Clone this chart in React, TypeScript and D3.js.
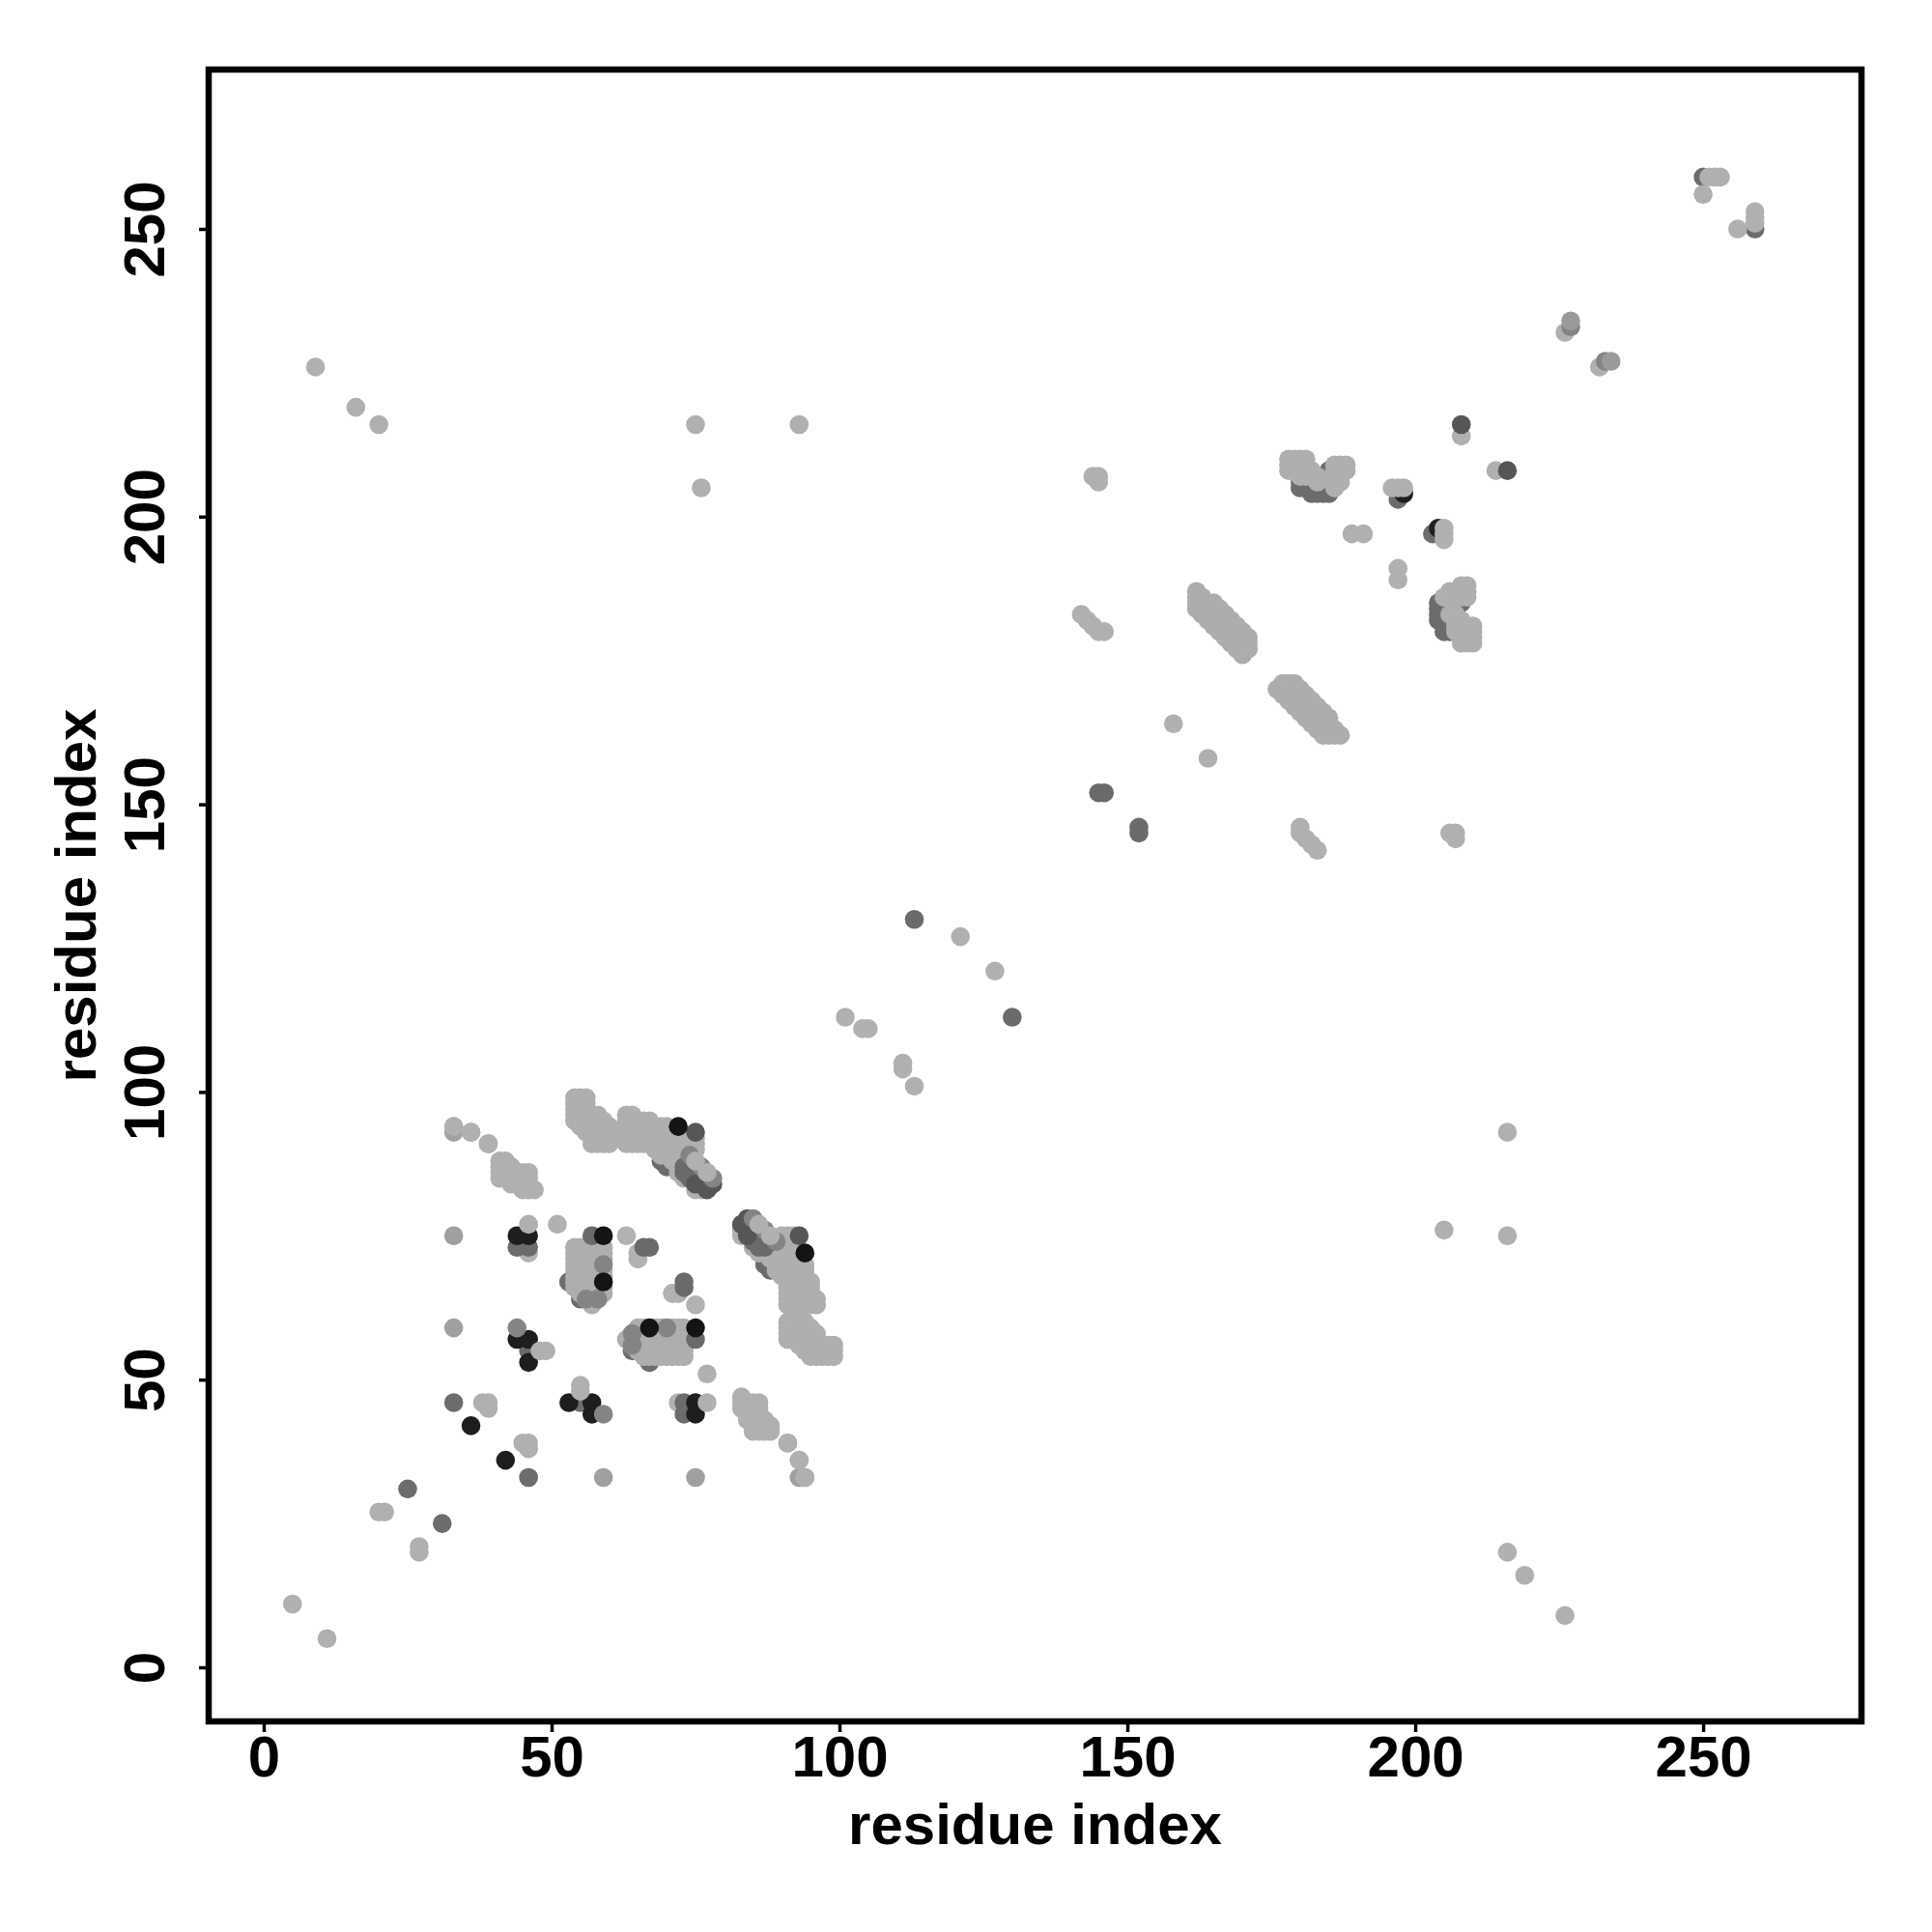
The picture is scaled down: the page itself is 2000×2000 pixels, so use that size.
import React, { useRef, useEffect } from "react";
import * as d3 from "d3";

type Pair = [number, number];

const xTicks = [0, 50, 100, 150, 200, 250];
const yTicks = [0, 50, 100, 150, 200, 250];
const xDomain: [number, number] = [-9.56, 277.5];
const yDomain: [number, number] = [-9.4, 277.7];

// every contact is listed once as [i, j]; the map draws it at (i, j) and (j, i)
const underLight: Pair[] = [
  [46, 72], [65, 71], [65, 72], [63, 75], [71, 65], [72, 65],
];
const underMid: Pair[] = [
  [33, 93], [33, 59], [33, 75],
];
const underGray: Pair[] = [
  [53, 67], [55, 64], [67, 53], [69, 88], [70, 87], [71, 87],
  [180, 205], [180, 206], [181, 205], [181, 206], [182, 204], [182, 205],
  [183, 204], [183, 205], [184, 204], [184, 205], [184, 206], [184, 207],
  [185, 204], [185, 205], [185, 206], [185, 207], [185, 208],
  [197, 203], [33, 46], [46, 73], [44, 73], [46, 55], [25, 31],
  [73, 92], [250, 259],
];
const underBlack: Pair[] = [
  [198, 204], [44, 75], [46, 75], [44, 57], [46, 57], [46, 53], [36, 42],
];

const lightSparse: Pair[] = [
  [5, 11], [9, 226], [16, 219], [20, 216], [75, 216], [76, 205], [93, 216],
  [101, 113], [104, 111], [105, 111], [121, 127], [20, 27], [21, 27],
  [250, 256], [251, 259], [252, 259], [253, 259], [226, 232],
  [208, 214], [189, 197], [191, 197], [158, 164],
  [142, 183], [143, 182], [144, 181], [145, 180], [146, 180],
  [144, 207], [145, 207], [145, 206],
  [196, 205], [197, 205], [198, 205],
  [33, 94], [36, 93], [39, 91], [46, 77], [51, 77], [48, 55], [49, 55],
  [38, 46], [39, 46], [39, 45], [94, 33], [91, 39], [93, 36],
];
const lightStrandA: Pair[] = [
  [162, 187], [162, 186], [162, 185], [162, 184],
  [163, 186], [163, 185], [163, 184], [163, 183],
  [164, 185], [164, 184], [164, 183], [164, 182],
  [165, 185], [165, 184], [165, 183], [165, 182], [165, 181],
  [166, 184], [166, 183], [166, 182], [166, 181], [166, 180],
  [167, 183], [167, 182], [167, 181], [167, 180], [167, 179],
  [168, 182], [168, 181], [168, 180], [168, 179], [168, 178],
  [169, 181], [169, 180], [169, 179], [169, 178], [169, 177],
  [170, 180], [170, 179], [170, 178], [170, 177], [170, 176],
  [171, 179], [171, 178], [171, 177],
];
const lightPatchB: Pair[] = [
  [178, 210], [179, 210], [180, 210], [181, 210],
  [178, 209], [179, 209], [180, 209], [181, 209],
  [178, 208], [179, 208], [180, 208], [181, 208],
  [180, 207], [181, 207], [182, 208], [182, 207], [183, 207], [183, 206],
  [186, 209], [187, 209], [188, 209],
  [186, 208], [187, 208], [188, 208], [186, 207], [187, 207],
  [186, 206], [187, 206], [186, 205],
];
const lightPatchC: Pair[] = [
  [41, 88], [41, 87], [41, 86], [41, 85], [42, 88], [42, 87], [42, 86], [42, 85],
  [43, 87], [43, 86], [43, 85], [43, 84], [44, 86], [44, 85], [44, 84],
  [45, 86], [45, 85], [45, 84], [45, 83], [46, 86], [46, 85], [46, 84], [46, 83],
  [47, 83],
];
const lightStrandD: Pair[] = [
  [54, 99], [54, 98], [54, 97], [54, 96], [54, 95],
  [55, 99], [55, 98], [55, 97], [55, 96], [55, 95], [55, 94],
  [56, 99], [56, 98], [56, 97], [56, 96], [56, 95], [56, 94], [56, 93],
  [57, 96], [57, 95], [57, 94], [57, 93], [57, 92], [57, 91],
  [58, 96], [58, 95], [58, 94], [58, 93], [58, 92], [58, 91],
  [59, 95], [59, 94], [59, 93], [59, 92], [59, 91],
  [60, 94], [60, 93], [60, 92], [60, 91],
  [63, 96], [63, 95], [63, 94], [63, 93], [63, 92], [63, 91],
  [64, 96], [64, 95], [64, 94], [64, 93], [64, 92], [64, 91],
  [65, 95], [65, 94], [65, 93], [65, 92], [65, 91],
  [66, 95], [66, 94], [66, 93], [66, 92], [66, 91],
  [67, 95], [67, 94], [67, 93], [67, 92], [67, 91],
  [68, 94], [68, 93], [68, 92], [68, 91], [68, 90],
  [69, 94], [69, 93], [69, 92], [69, 91], [69, 90], [69, 89],
  [70, 94], [70, 93], [70, 92], [70, 91], [70, 90], [70, 89],
  [71, 93], [71, 92], [71, 91], [71, 90], [71, 89], [71, 88],
  [72, 92], [72, 91], [72, 90], [72, 89], [72, 88], [72, 87], [72, 86],
  [73, 91], [73, 90], [73, 89], [73, 88], [73, 87], [73, 86], [73, 85],
  [74, 92], [74, 91], [74, 90], [74, 88], [74, 87],
  [75, 92], [75, 91], [75, 90], [75, 83], [76, 83],
];
const lightPatchE: Pair[] = [
  [54, 73], [54, 72], [54, 71], [54, 70], [54, 69], [54, 68], [54, 67], [54, 66],
  [55, 73], [55, 72], [55, 71], [55, 70], [55, 69], [55, 68], [55, 67], [55, 66], [55, 65],
  [56, 73], [56, 72], [56, 71], [56, 70], [56, 69], [56, 68], [56, 67], [56, 66], [56, 65], [56, 64],
  [57, 73], [57, 72], [57, 71], [57, 70], [57, 69], [57, 68], [57, 67], [57, 66], [57, 65], [57, 64], [57, 63],
  [58, 73], [58, 72], [58, 71], [58, 70], [58, 69], [58, 68], [58, 67], [58, 66], [58, 65], [58, 64],
  [59, 73], [59, 72], [59, 71], [59, 69], [59, 68], [59, 66], [59, 65],
];

const overGray: Pair[] = [
  [73, 87], [73, 86], [74, 86], [74, 85], [75, 85],
  [66, 73], [67, 73], [57, 75],
  [113, 130], [145, 152], [146, 152],
];
const overDark: Pair[] = [
  [75, 84], [76, 84], [77, 84], [78, 84], [77, 83], [208, 216], [75, 93],
];
const overMid: Pair[] = [
  [76, 87], [74, 89], [78, 85], [59, 70], [44, 59], [56, 64], [58, 64], [227, 233],
];
const overPale: Pair[] = [[227, 234]];
const overLight: Pair[] = [[77, 86], [75, 88]];
const overBlack: Pair[] = [[59, 75], [59, 67], [72, 94]];

const layers: { pairs: Pair[]; fill: string }[] = [
  { pairs: underLight, fill: "#b2b2b2" },
  { pairs: underMid, fill: "#a0a0a0" },
  { pairs: underGray, fill: "#6c6c6c" },
  { pairs: underBlack, fill: "#1e1e1e" },
  { pairs: lightSparse, fill: "#b0b0b0" },
  { pairs: lightStrandA, fill: "#adadad" },
  { pairs: lightPatchB, fill: "#afafaf" },
  { pairs: lightPatchC, fill: "#b0b0b0" },
  { pairs: lightStrandD, fill: "#afafaf" },
  { pairs: lightPatchE, fill: "#aeaeae" },
  { pairs: overGray, fill: "#6a6a6a" },
  { pairs: overDark, fill: "#565656" },
  { pairs: overMid, fill: "#848484" },
  { pairs: overPale, fill: "#9a9a9a" },
  { pairs: overLight, fill: "#b0b0b0" },
  { pairs: overBlack, fill: "#141414" },
];

const App = () => {
  const ref: any = useRef();

  useEffect(() => {
    const svg = d3.select(ref.current);
    svg.selectAll("*").remove();

    const left = 216;
    const right = 1927;
    const top = 72;
    const bottom = 1782;
    const font = "'Liberation Sans', Arial, sans-serif";

    const xScale = d3.scaleLinear().domain(xDomain).range([left, right]);
    const yScale = d3.scaleLinear().domain(yDomain).range([bottom, top]);

    layers.forEach((layer) => {
      svg
        .append("g")
        .selectAll("circle")
        .data(layer.pairs.flatMap(([i, j]) => [[i, j], [j, i]]))
        .enter()
        .append("circle")
        .attr("cx", (d: any) => xScale(d[0]))
        .attr("cy", (d: any) => yScale(d[1]))
        .attr("r", 9.8)
        .attr("fill", layer.fill);
    });

    // Plot the x-axis
    const xAxisPlot = svg
      .append("g")
      .attr("transform", "translate(0," + bottom + ")")
      .call(d3.axisBottom(xScale).tickValues(xTicks).tickSize(11).tickPadding(10));

    // Plot the y-axis
    const yAxisPlot = svg
      .append("g")
      .attr("transform", "translate(" + left + ",0)")
      .call(d3.axisLeft(yScale).tickValues(yTicks).tickSize(10));

    [xAxisPlot, yAxisPlot].forEach((axis: any) => {
      axis.select(".domain").remove();
      axis.selectAll(".tick line").attr("stroke", "#000").attr("stroke-width", 3.5);
      axis
        .selectAll(".tick text")
        .attr("fill", "#000")
        .attr("font-family", font)
        .attr("font-weight", "bold")
        .attr("font-size", 60);
    });

    xAxisPlot.selectAll(".tick text").attr("dy", null).attr("y", 57);
    yAxisPlot
      .selectAll(".tick text")
      .attr("x", null)
      .attr("dy", null)
      .attr("text-anchor", "middle")
      .attr("transform", "translate(-46,0) rotate(-90)");

    svg
      .append("rect")
      .attr("x", left)
      .attr("y", top)
      .attr("width", right - left)
      .attr("height", bottom - top)
      .attr("fill", "none")
      .attr("stroke", "#000")
      .attr("stroke-width", 6.5);

    svg
      .append("text")
      .attr("x", (left + right) / 2)
      .attr("y", 1909)
      .attr("text-anchor", "middle")
      .attr("font-family", font)
      .attr("font-weight", "bold")
      .attr("font-size", 60)
      .text("residue index");

    svg
      .append("text")
      .attr("transform", "translate(99," + (top + bottom) / 2 + ") rotate(-90)")
      .attr("text-anchor", "middle")
      .attr("font-family", font)
      .attr("font-weight", "bold")
      .attr("font-size", 60)
      .text("residue index");
  }, []);

  return (
    <svg
      ref={ref}
      width={2000}
      height={2000}
      style={{ position: "absolute", left: 0, top: 0, background: "#fff" }}
    ></svg>
  );
};

export default App;
